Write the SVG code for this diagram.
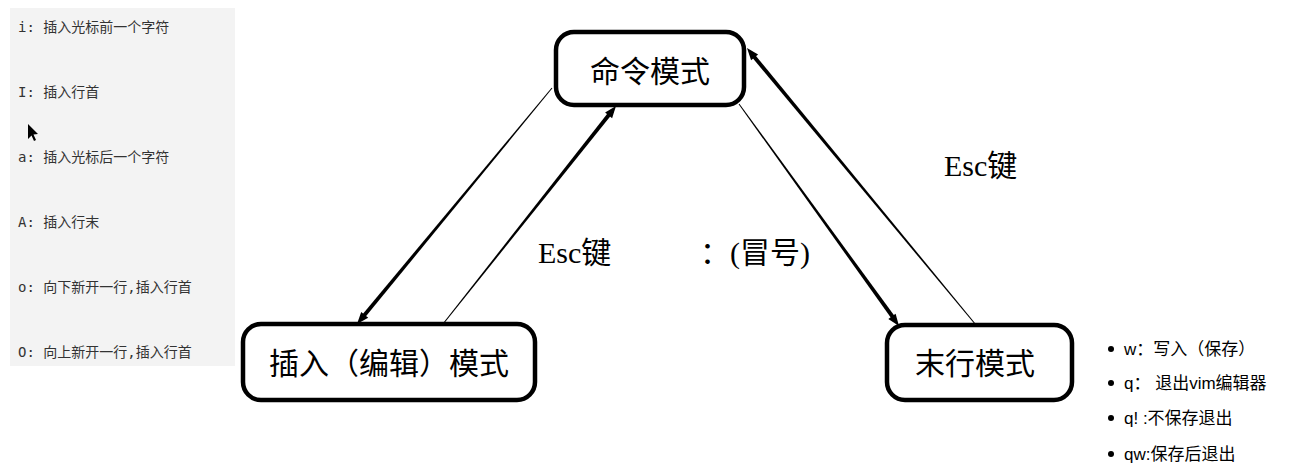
<svg xmlns="http://www.w3.org/2000/svg" width="1291" height="471" viewBox="0 0 1291 471">
<style>
.box{fill:#fff;stroke:#000;stroke-width:4.5}
.big{font-family:"Liberation Serif","Noto Sans CJK SC",serif;font-size:30px;fill:#000;text-anchor:middle}
.lbl{font-family:"Liberation Serif","Noto Sans CJK SC",serif;font-size:30px;fill:#000}
.mono{font-family:"DejaVu Sans Mono","Noto Sans CJK SC",monospace;font-size:14px;fill:#333}
.li{font-family:"Liberation Sans","Noto Sans CJK SC",sans-serif;font-size:17px;fill:#000}
.c{fill:#000}
</style>
<rect width="1291" height="471" fill="#fff"/>
<g id="panel">
<rect x="10" y="8" width="225" height="358" fill="#f3f3f3"/>
<text class="mono" x="18" y="32">i: 插入光标前一个字符</text>
<text class="mono" x="18" y="97">I: 插入行首</text>
<path d="M28,124 L28,139 L31.5,135.5 L34,141 L36,140 L33.5,134.5 L38,134 Z" fill="#000"/>
<text class="mono" x="18" y="162">a: 插入光标后一个字符</text>
<text class="mono" x="18" y="227">A: 插入行末</text>
<text class="mono" x="18" y="292">o: 向下新开一行,插入行首</text>
<text class="mono" x="18" y="357">O: 向上新开一行,插入行首</text>
</g>
<g id="connectors">
<polygon class="c" points="552.4,88.3 363.5,319.3 360.5,316.7 551.6,87.7"/>
<polygon class="c" points="357,324 368.2,317.7 361.2,311.9"/>
<polygon class="c" points="443.4,324.3 613.6,112.2 610.4,109.8 442.6,323.7"/>
<polygon class="c" points="616,106 612.1,118.2 605.1,112.6"/>
<polygon class="c" points="739.4,103.7 896.6,318.8 893.4,321.2 738.6,104.3"/>
<polygon class="c" points="899,326 895.6,313.7 888.3,318.9"/>
<polygon class="c" points="976.4,324.7 752.5,51.7 749.5,54.3 975.6,325.3"/>
<polygon class="c" points="747,48 758.1,54.4 751.1,60.2"/>
<text class="lbl" x="538" y="263">Esc键</text>
<text class="lbl" x="700" y="263">：(冒号)</text>
<text class="lbl" x="944" y="176">Esc键</text>
</g>
<g id="command">
<rect class="box" x="556" y="32" width="188" height="73" rx="18"/>
<text class="big" x="650" y="82">命令模式</text>
</g>
<g id="insert">
<rect class="box" x="243" y="324" width="292" height="76" rx="18"/>
<text class="big" x="389" y="374">插入（编辑）模式</text>
</g>
<g id="lastline">
<rect class="box" x="887" y="325" width="185" height="75" rx="18"/>
<text class="big" x="975" y="374">末行模式</text>
</g>
<g id="list">
<circle cx="1111" cy="349" r="3"/>
<text class="li" x="1124" y="355">w：写入（保存）</text>
<circle cx="1111" cy="383" r="3"/>
<text class="li" x="1124" y="389">q： 退出vim编辑器</text>
<circle cx="1111" cy="418" r="3"/>
<text class="li" x="1124" y="424">q! :不保存退出</text>
<circle cx="1111" cy="454" r="3"/>
<text class="li" x="1124" y="460">qw:保存后退出</text>
</g>
</svg>
